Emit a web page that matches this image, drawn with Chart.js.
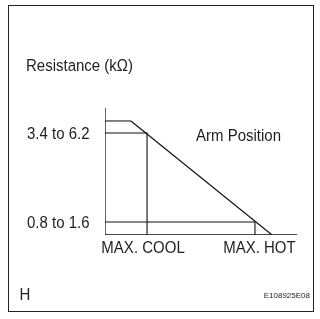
<!DOCTYPE html>
<html>
<head>
<meta charset="utf-8">
<script src="https://cdn.jsdelivr.net/npm/chart.js@4"></script>
<style>
html,body{margin:0;padding:0;background:#fff;}
canvas{display:block;}
</style>
</head>
<body>
<canvas id="c" width="320" height="319"></canvas>
<script>
// ---- data ----
const positions = ["MAX. COOL", "MAX. HOT"];
const positionX = [2.19, 7.81];
const resistanceLabels = ["3.4 to 6.2", "0.8 to 1.6"];
const resistanceY = [8.03, 1.02];
const curveX = [0, 1.35, 8.7];
const curveY = [8.98, 8.98, 0];
const axisTitle = "Resistance (k\u03A9)";
const seriesTitle = "Arm Position";
const cornerLetter = "H";
const figureCode = "E108925E08";

const FONT = '"Liberation Sans", Arial, sans-serif';
const TEXT = '#1e1e1e';

const curveData = curveX.map((x, i) => ({x: x, y: curveY[i]}));
const refDatasets = positions.map((p, i) => ({
  label: p,
  data: [{x: 0, y: resistanceY[i]}, {x: positionX[i], y: resistanceY[i]}, {x: positionX[i], y: 0}],
  borderColor: '#111', borderWidth: 1.1, pointRadius: 0, showLine: true, fill: false
}));

function tallText(ctx, t, x, y, sy) {
  ctx.save();
  ctx.translate(x, y);
  ctx.scale(1, sy);
  ctx.fillText(t, 0, 0);
  ctx.restore();
}

const textPlugin = {
  id: 'texts',
  afterDraw(chart) {
    const ctx = chart.ctx;
    const xs = chart.scales.x, ys = chart.scales.y;
    ctx.save();
    // frame
    ctx.strokeStyle = '#222';
    ctx.lineWidth = 1;
    ctx.strokeRect(8.5, 5.5, 305, 306);
    ctx.fillStyle = TEXT;
    ctx.textBaseline = 'middle';
    ctx.font = '15px ' + FONT;
    ctx.textAlign = 'left';
    const S = 1.1;
    tallText(ctx, axisTitle, 26, 66, S);
    tallText(ctx, seriesTitle, 196, 136, S);
    tallText(ctx, cornerLetter, 19.5, 295, S);
    ctx.textAlign = 'right';
    resistanceLabels.forEach((t, i) => {
      tallText(ctx, t, chart.chartArea.left - 15.5, ys.getPixelForValue(resistanceY[i]) + 1, S);
    });
    ctx.textAlign = 'center';
    const offs = [-4, 4.5];
    positions.forEach((t, i) => {
      tallText(ctx, t, xs.getPixelForValue(positionX[i]) + offs[i], ys.getPixelForValue(0) + 13, S);
    });
    ctx.font = '8px ' + FONT;
    ctx.textAlign = 'right';
    ctx.fillText(figureCode, 310, 296);
    ctx.restore();
  }
};

new Chart(document.getElementById('c'), {
  type: 'scatter',
  data: {
    datasets: [
      {
        label: 'axes',
        data: [{x: 0, y: 10}, {x: 0, y: 0}, {x: 10, y: 0}],
        borderColor: '#111', borderWidth: 1.3, pointRadius: 0, showLine: true, fill: false
      },
      ...refDatasets,
      {
        label: seriesTitle,
        data: curveData,
        borderColor: '#111', borderWidth: 1.2, pointRadius: 0, showLine: true, fill: false,
        segment: {
          borderColor: c => c.p0DataIndex === 0 ? '#777' : '#111',
          borderWidth: c => c.p0DataIndex === 0 ? 1.8 : 1.2
        }
      }
    ]
  },
  options: {
    responsive: false,
    animation: false,
    devicePixelRatio: 1,
    layout: {padding: {left: 105, right: 23, top: 108, bottom: 84}},
    plugins: {legend: {display: false}, tooltip: {enabled: false}},
    scales: {
      x: {type: 'linear', min: 0, max: 10, display: false},
      y: {type: 'linear', min: 0, max: 10, display: false}
    },
    elements: {line: {tension: 0}}
  },
  plugins: [textPlugin]
});
</script>
</body>
</html>
